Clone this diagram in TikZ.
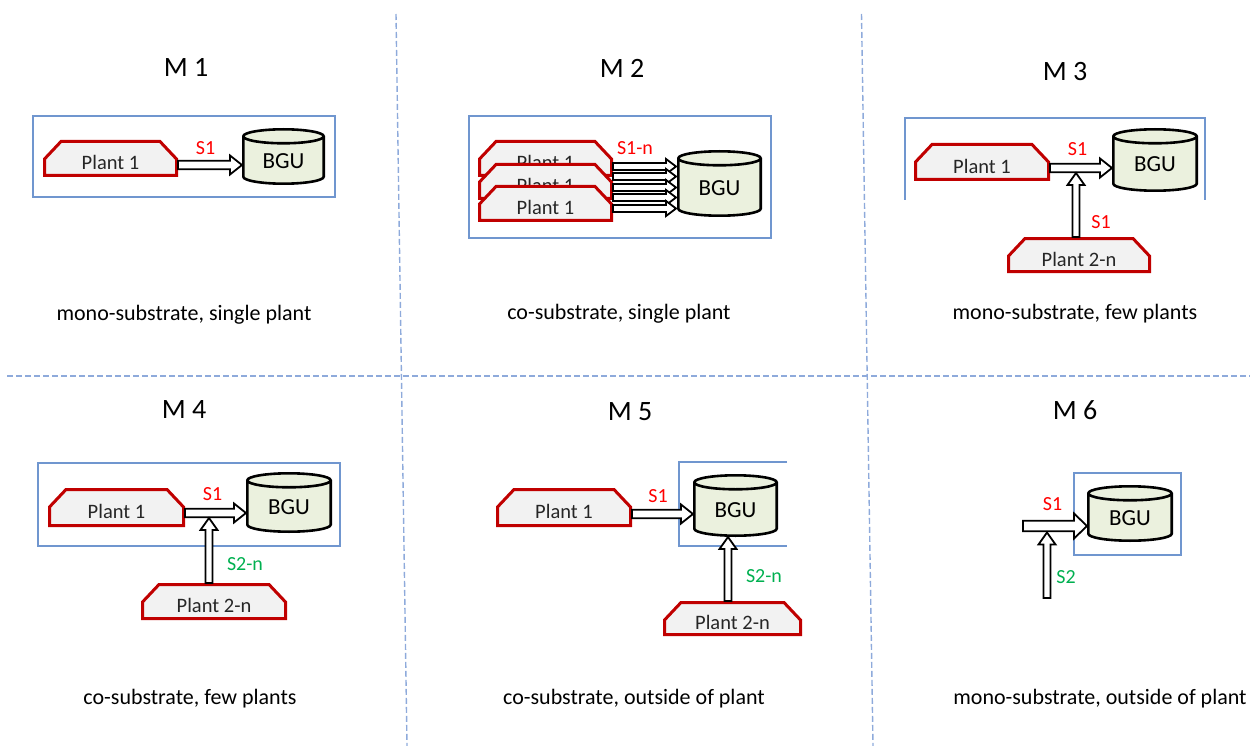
\documentclass[tikz,border=0pt]{standalone}
\usepackage{fontspec}
\setmainfont{Carlito}
\usetikzlibrary{calc}

\definecolor{plantred}{HTML}{C00000}
\definecolor{plantfill}{HTML}{F2F2F2}
\definecolor{bgufill}{HTML}{EBF1DE}
\definecolor{framebl}{HTML}{7096CF}
\definecolor{gridbl}{HTML}{8EAADB}
\definecolor{lblred}{HTML}{FF0000}
\definecolor{lblgreen}{HTML}{00B050}

\newcommand\titlefont{\fontsize{28}{33}\selectfont}
\newcommand\capfont{\fontsize{22}{26}\selectfont}
\newcommand\lblfont{\fontsize{20}{24}\selectfont}
\newcommand\plantfont{\fontsize{20.5}{24}\selectfont}
\newcommand\bgufont{\fontsize{23}{28}\selectfont}

\tikzset{
  arrshaft/.store in=\arrShaft, arrhead/.store in=\arrHead, arrlen/.store in=\arrLen,
  arrshaft=4.2pt, arrhead=9.5pt, arrlen=12pt,
  % hollow block arrow from the start point to the target point
  blockarrow/.style={draw=black, fill=white, line width=1.8pt, line join=miter,
    to path={let \p1=(\tikztostart), \p2=(\tikztotarget),
      \n1={atan2(\y2-\y1,\x2-\x1)}, \n2={veclen(\x2-\x1,\y2-\y1)-\arrLen} in
      (\p1) -- ++(\n1+90:\arrShaft) -- ++(\n1:\n2) -- ++(\n1+90:\arrHead-\arrShaft)
      -- (\p2) -- ($(\p1)+(\n1:\n2)+(\n1-90:\arrHead)$) -- ++(\n1+90:\arrHead-\arrShaft)
      -- ++(\n1+180:\n2) -- cycle}},
  vert/.style={arrshaft=3.5pt, arrhead=8.5pt, arrlen=12pt},
  % plant: grey box with chamfered top corners and a red border
  plant/.style={inner sep=0pt, outer sep=0pt, font=\plantfont, text=black!85,
    text height=22.6pt, text depth=0pt,
    path picture={
      \path[draw=plantred, fill=plantfill, line width=3pt, line join=miter]
        let \p1=(path picture bounding box.south west),
            \p2=(path picture bounding box.north east) in
        (\x1+1.5pt,\y1+1.5pt) -- (\x1+1.5pt,\y2-19pt) -- (\x1+18pt,\y2-1.5pt)
        -- (\x2-18pt,\y2-1.5pt) -- (\x2-1.5pt,\y2-19pt) -- (\x2-1.5pt,\y1+1.5pt) -- cycle;}},
  % biogas unit drawn as a cylinder
  bgu/.style={inner sep=0pt, outer sep=0pt, font=\bgufont, text=black,
    text height=23.6pt, text depth=0pt,
    path picture={
      \path[draw=black, fill=bgufill, line width=2.6pt]
        let \p1=(path picture bounding box.south west),
            \p2=(path picture bounding box.north east),
            \n1={(\x2-\x1)/2-1.3pt} in
        (\x1+1.3pt,\y2-8.3pt) -- (\x1+1.3pt,\y1+8.3pt)
          arc[start angle=180, end angle=360, x radius=\n1, y radius=7pt]
          -- (\x2-1.3pt,\y2-8.3pt)
          arc[start angle=0, end angle=180, x radius=\n1, y radius=7pt] -- cycle
        (\x1+1.3pt,\y2-8.3pt)
          arc[start angle=180, end angle=360, x radius=\n1, y radius=7pt];}},
  frame/.style={draw=framebl, line width=1.1pt},
  grid/.style={draw=gridbl, line width=1.4pt, dash pattern=on 6pt off 3pt},
  title/.style={inner sep=0pt, font=\titlefont, text height=17.7pt, text depth=0pt},
  caption/.style={inner sep=0pt, font=\capfont, text height=13.9pt, text depth=0pt},
  lbl/.style={inner sep=0pt, font=\lblfont, text height=12.6pt, text depth=0pt},
}

\begin{document}
\begin{tikzpicture}[x=1pt, y=1pt]
\useasboundingbox (0,0) rectangle (1250,-746);

% separators between the six panels
\draw[grid] (396,-14) -- (407,-746);
\draw[grid] (861.5,-14) -- (873,-746);
\draw[grid] (7,-376) -- (1250,-376);

% ---------- M 1 ----------
\node[title] (t1) at (186,-68) {M 1};
\draw[frame] (33,-116) rectangle (335,-197);
\node[plant, minimum width=135pt, minimum height=37pt] (m1p) at (110.5,-158.5) {Plant 1};
\node[bgu, minimum width=83pt, minimum height=57pt] (m1bgu) at (283.5,-156.5) {BGU};
\draw[blockarrow] ($(m1p.east)+(0,-6.5)$) to ($(m1p.east -| m1bgu.west)+(0,-6.5)$);
\node[lbl, text=lblred] (m1s) at (205.5,-148.5) {S1};
\node[caption] (c1) at (184,-314) {mono-substrate, single plant};

% ---------- M 2 ----------
\node[title] (t2) at (622,-69) {M 2};
\draw[frame] (469,-116) rectangle (771,-238);
\node[plant, minimum width=135pt, minimum height=37pt] (m2pa) at (545.5,-158.5) {Plant 1};
\node[plant, minimum width=135pt, minimum height=37pt] (m2pb) at (545.5,-181.5) {Plant 1};
\node[plant, minimum width=135pt, minimum height=37pt] (m2pc) at (545.5,-203.5) {Plant 1};
\node[bgu, minimum width=85pt, minimum height=67pt] (m2bgu) at (719.5,-183.5) {BGU};
\foreach \dy in {17,7,-4,-14,-25}
  \draw[blockarrow, arrshaft=3.5pt, arrhead=7.5pt, arrlen=10pt]
    ($(m2pc.east |- m2bgu.west)+(0,\dy)$) to ($(m2bgu.west)+(-1,\dy)$);
\node[lbl, text=lblred] (m2s) at (635,-148) {S1-n};
\node[caption] (c2) at (619,-313) {co-substrate, single plant};

% ---------- M 3 ----------
\node[title] (t3) at (1065,-72) {M 3};
\draw[frame] (905,-200) -- (905,-118) -- (1205,-118) -- (1205,-200);
\node[plant, minimum width=136pt, minimum height=38pt] (m3pa) at (982,-162) {Plant 1};
\node[bgu, minimum width=86pt, minimum height=64pt] (m3bgu) at (1155,-160) {BGU};
\node[plant, minimum width=144pt, minimum height=36pt] (m3pb) at (1079,-255) {Plant 2-n};
\draw[blockarrow] ($(m3pa.east)+(0,-6)$) to ($(m3pa.east -| m3bgu.west)+(0,-6)$);
\coordinate (m3j) at (1076,-173);
\draw[blockarrow, vert] (m3j |- m3pb.north) to (m3j);
\node[lbl, text=lblred] (m3s1) at (1077.5,-149.5) {S1};
\node[lbl, text=lblred] (m3s2) at (1101,-222) {S1};
\node[caption] (c3) at (1075,-313) {mono-substrate, few plants};

% ---------- M 4 ----------
\node[title] (t4) at (184,-410) {M 4};
\draw[frame] (38,-463) rectangle (340,-546);
\node[plant, minimum width=137pt, minimum height=39pt] (m4pa) at (116.5,-507.5) {Plant 1};
\node[bgu, minimum width=86pt, minimum height=61pt] (m4bgu) at (289,-502.5) {BGU};
\node[plant, minimum width=146pt, minimum height=37pt] (m4pb) at (214,-601.5) {Plant 2-n};
\draw[blockarrow] ($(m4pa.east)+(0,-5.5)$) to ($(m4pa.east -| m4bgu.west)+(0,-5.5)$);
\coordinate (m4j) at (209,-518);
\draw[blockarrow, vert] (m4j |- m4pb.north) to (m4j);
\node[lbl, text=lblred] (m4s1) at (212.5,-494.5) {S1};
\node[lbl, text=lblgreen] (m4s2) at (245,-564) {S2-n};
\node[caption] (c4) at (190,-698) {co-substrate, few plants};

% ---------- M 5 ----------
\node[title] (t5) at (630,-412) {M 5};
\draw[frame] (787,-462) -- (679,-462) -- (679,-546) -- (787,-546);
\node[plant, minimum width=136pt, minimum height=39pt] (m5pa) at (564,-507.5) {Plant 1};
\node[bgu, minimum width=85pt, minimum height=63pt] (m5bgu) at (735.5,-505.5) {BGU};
\node[plant, minimum width=139pt, minimum height=35pt] (m5pb) at (732.5,-618.5) {Plant 2-n};
\draw[blockarrow] ($(m5pa.east)+(0,-6.5)$) to ($(m5pa.east -| m5bgu.west)+(0,-6.5)$);
\draw[blockarrow, vert] ($(m5pb.north)+(-4.5,0)$) to ($(m5bgu.south)+(-7.5,0)$);
\node[lbl, text=lblred] (m5s1) at (658,-496) {S1};
\node[lbl, text=lblgreen] (m5s2) at (764,-576.5) {S2-n};
\node[caption] (c5) at (634,-698) {co-substrate, outside of plant};

% ---------- M 6 ----------
\node[title] (t6) at (1075,-411) {M 6};
\draw[frame] (1074,-473) rectangle (1181,-555);
\node[bgu, minimum width=86pt, minimum height=57pt] (m6bgu) at (1130,-513.5) {BGU};
\coordinate (m6in) at (1023,-526);
\draw[blockarrow, arrshaft=5.2pt, arrhead=12.5pt, arrlen=13pt] (m6in) to (m6in -| m6bgu.west);
\coordinate (m6in2) at (1047,-598);
\coordinate (m6j) at (1047,-532.5);
\draw[blockarrow, vert] (m6in2) to (m6j);
\node[lbl, text=lblred] (m6s1) at (1052.5,-504.5) {S1};
\node[lbl, text=lblgreen] (m6s2) at (1066,-577.5) {S2};
\node[caption] (c6) at (1100,-698) {mono-substrate, outside of plant};
\end{tikzpicture}
\end{document}
